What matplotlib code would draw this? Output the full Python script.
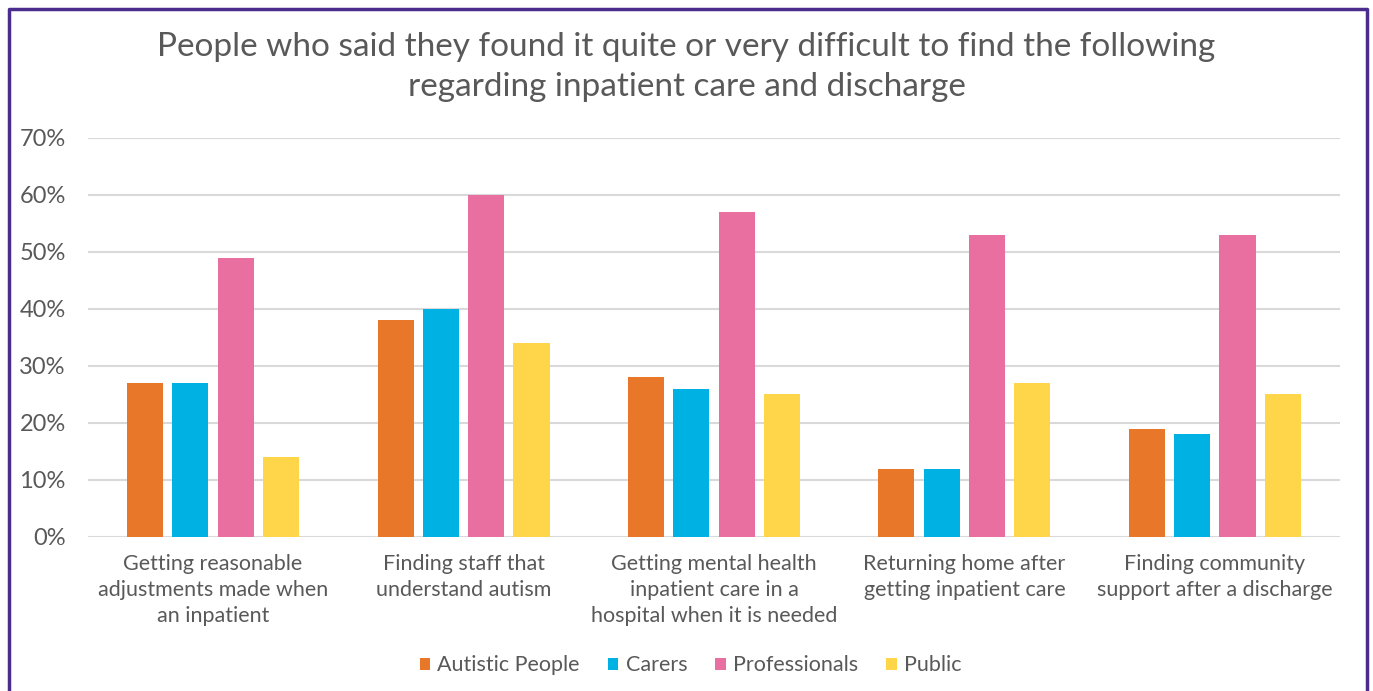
import numpy as np
import matplotlib.pyplot as plt

# data
categories = ['Getting reasonable\nadjustments made when\nan inpatient',
              'Finding staff that\nunderstand autism',
              'Getting mental health\ninpatient care in a\nhospital when it is needed',
              'Returning home after\ngetting inpatient care',
              'Finding community\nsupport after a discharge']
autistic = [27, 38, 28, 12, 19]
carers = [27, 40, 26, 12, 18]
professionals = [49, 60, 57, 53, 53]
public = [14, 34, 25, 27, 25]

series = ['Autistic People', 'Carers', 'Professionals', 'Public']
colors = ['#E8772A', '#00B2E3', '#E96FA0', '#FFD54A']
values = [autistic, carers, professionals, public]

plt.rcParams['font.family'] = ['Lato', 'DejaVu Sans']
txt = '#595959'

fig = plt.figure(figsize=(13.73, 6.91), dpi=100)
ax = fig.add_axes([0.064, 0.2229, 0.912, 0.5774])

x = np.arange(len(categories))
w = 0.144
step = 0.181
for i, (name, vals) in enumerate(zip(series, values)):
    ax.bar(x + (i - 1.5) * step, np.array(vals) / 100, w, color=colors[i],
           label=name, zorder=3)

ax.set_xlim(-0.5, 4.5)
ax.set_ylim(0, 0.7)
ticks = np.arange(0, 0.71, 0.1)
ax.set_yticks(ticks)
ax.set_yticklabels([f'{int(round(t * 100))}%' for t in ticks],
                   fontsize=17, color=txt)
ax.set_xticks(x)
ax.set_xticklabels(categories, fontsize=15.5, color=txt, linespacing=1.4)
ax.tick_params(length=0)
ax.tick_params(axis='y', pad=16)
ax.tick_params(axis='x', pad=12)
ax.grid(axis='y', color='#D9D9D9', linewidth=1.5, zorder=0)
for s in ax.spines.values():
    s.set_visible(False)

fig.text(0.5, 0.932, 'People who said they found it quite or very difficult to find the following',
         ha='center', va='center', fontsize=24, color=txt)
fig.text(0.5, 0.874, 'regarding inpatient care and discharge',
         ha='center', va='center', fontsize=24, color=txt)

fig.legend(loc='center', bbox_to_anchor=(0.503, 0.037), ncol=4, frameon=False,
           fontsize=15.5, labelcolor=txt, handlelength=0.48, handleheight=0.48,
           handletextpad=0.35, columnspacing=1.3)

# purple frame (no bottom edge)
W, H = 1373, 691
fx0, fx1, fy1 = 8.5 / W, 1366.5 / W, 1 - 8.5 / H
fig.add_artist(plt.Line2D([fx0, fx0, fx1, fx1], [0, fy1, fy1, 0],
                          transform=fig.transFigure, color='#4B2C8C', linewidth=2.5))

fig.savefig('out.png', dpi=100)
